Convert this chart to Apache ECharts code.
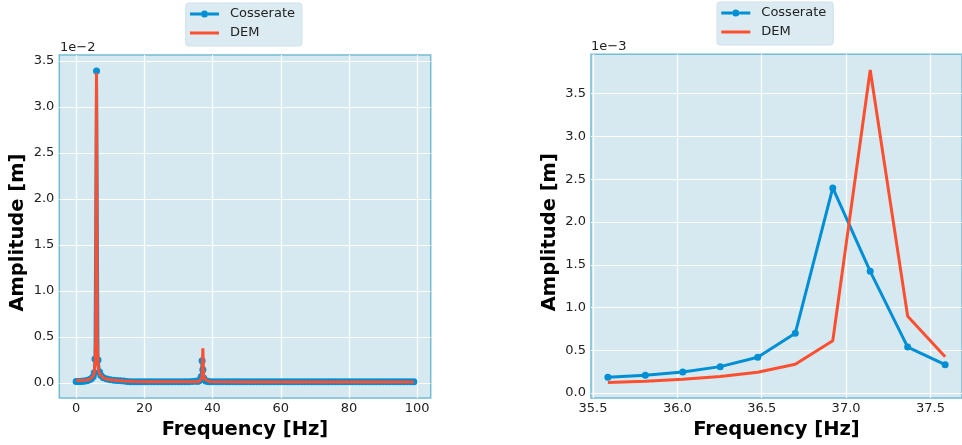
<!DOCTYPE html>
<html>
<head>
<meta charset="utf-8">
<script src="https://cdn.jsdelivr.net/npm/echarts@6/dist/echarts.min.js"></script>
<style>
html,body{margin:0;padding:0;background:#fff;}
#chart{width:962px;height:445px;}
</style>
</head>
<body>
<div id="chart"></div>
<script>
// ---------- DATA (amplitudes in metres, frequencies in Hz) ----------
// Cosserate, full spectrum: part below the zoom window
const cossFreqLow = [0, 0.5, 1, 1.5, 2, 2.5, 3, 3.5, 4, 4.5, 5, 5.3, 5.52, 5.96, 6.40, 6.84, 7.28, 8, 9, 10, 11, 12, 13, 14, 15,
  16, 17, 18, 19, 20, 21, 22, 23, 24, 25, 26, 27, 28, 29, 30, 31, 32, 33, 34, 35];
const cossAmpLow = [1.5e-4, 1.5e-4, 1.6e-4, 1.7e-4, 1.9e-4, 2.1e-4, 2.4e-4, 2.9e-4, 3.6e-4, 4.7e-4, 7.0e-4, 1.1e-3, 2.6e-3, 3.39e-2, 2.5e-3, 1.2e-3, 8.0e-4, 5.5e-4, 4.2e-4, 3.5e-4, 3.0e-4, 2.7e-4, 2.4e-4, 2.0e-4, 1.5e-4,
  1.2e-4, 1.2e-4, 1.2e-4, 1.2e-4, 1.2e-4, 1.2e-4, 1.2e-4, 1.2e-4, 1.2e-4, 1.2e-4, 1.2e-4, 1.2e-4, 1.2e-4, 1.2e-4, 1.2e-4, 1.2e-4, 1.2e-4, 1.3e-4, 1.5e-4, 1.7e-4];
// Zoom window around the second mode (right panel)
const zoomFreq = [35.588, 35.810, 36.032, 36.254, 36.476, 36.699, 36.921, 37.143, 37.365, 37.587];
const zoomCoss = [0.186e-3, 0.209e-3, 0.247e-3, 0.309e-3, 0.418e-3, 0.700e-3, 2.398e-3, 1.423e-3, 0.538e-3, 0.332e-3];
const zoomDEM  = [0.124e-3, 0.139e-3, 0.162e-3, 0.193e-3, 0.244e-3, 0.336e-3, 0.611e-3, 3.778e-3, 0.897e-3, 0.425e-3];
// Cosserate above the zoom window
const cossFreqHigh = [38, 38.5, 39, 40, 41, 42, 43, 44, 45, 46, 47, 48, 49, 50, 51, 52, 53, 54, 55, 56, 57, 58, 59, 60,
  61, 62, 63, 64, 65, 66, 67, 68, 69, 70, 71, 72, 73, 74, 75, 76, 77, 78, 79, 80,
  81, 82, 83, 84, 85, 86, 87, 88, 89, 90, 91, 92, 93, 94, 95, 96, 97, 98, 99];
const cossAmpHigh = [2.2e-4, 1.7e-4, 1.4e-4, 1.2e-4, 1.2e-4, 1.2e-4, 1.2e-4, 1.2e-4, 1.2e-4, 1.2e-4, 1.2e-4, 1.2e-4, 1.2e-4, 1.2e-4, 1.2e-4, 1.2e-4, 1.2e-4, 1.2e-4, 1.2e-4, 1.2e-4, 1.2e-4, 1.2e-4, 1.2e-4, 1.2e-4,
  1.2e-4, 1.2e-4, 1.2e-4, 1.2e-4, 1.2e-4, 1.2e-4, 1.2e-4, 1.2e-4, 1.2e-4, 1.2e-4, 1.2e-4, 1.2e-4, 1.2e-4, 1.2e-4, 1.2e-4, 1.2e-4, 1.2e-4, 1.2e-4, 1.2e-4, 1.2e-4,
  1.2e-4, 1.2e-4, 1.2e-4, 1.2e-4, 1.2e-4, 1.2e-4, 1.2e-4, 1.2e-4, 1.2e-4, 1.2e-4, 1.2e-4, 1.2e-4, 1.2e-4, 1.2e-4, 1.2e-4, 1.2e-4, 1.2e-4, 1.2e-4, 1.2e-4];
// DEM, full spectrum
const demFreqLow = [0, 1, 2, 3, 4, 4.5, 5, 5.3, 5.52, 5.74, 5.96, 6.18, 6.40, 6.62, 7, 8, 9, 10, 12, 14, 17, 20, 25, 30, 34];
const demAmpLow  = [2.5e-4, 2.6e-4, 2.8e-4, 3.2e-4, 4.0e-4, 5.0e-4, 7.5e-4, 1.1e-3, 2.0e-3, 5.0e-3, 3.37e-2, 4.5e-3, 2.0e-3, 1.3e-3, 9.0e-4, 5.5e-4, 4.2e-4, 3.5e-4, 2.7e-4, 2.0e-4, 1.5e-4, 1.3e-4, 1.2e-4, 1.2e-4, 1.2e-4];
const demFreqHigh = [38, 39, 40, 50, 60, 70, 80, 90, 99];
const demAmpHigh  = [2.5e-4, 1.5e-4, 1.2e-4, 1.0e-4, 1.0e-4, 1.0e-4, 1.0e-4, 1.0e-4, 1.0e-4];

// Tick values
const leftXTicks = [0, 20, 40, 60, 80, 100];
const leftYTicks = [0, 0.005, 0.01, 0.015, 0.02, 0.025, 0.03, 0.035];
const rightXTicks = [35.5, 36.0, 36.5, 37.0, 37.5];
const rightYTicks = [0, 0.0005, 0.001, 0.0015, 0.002, 0.0025, 0.003, 0.0035];

const seriesNames = ['Cosserate', 'DEM'];
const xTitle = 'Frequency [Hz]';
const yTitle = 'Amplitude [m]';

// ---------- BUILD ----------
const pairs = (xs, ys) => xs.map((x, i) => [x, ys[i]]);
const leftCoss = pairs(cossFreqLow, cossAmpLow).concat(pairs(zoomFreq, zoomCoss), pairs(cossFreqHigh, cossAmpHigh));
const leftDEM = pairs(demFreqLow, demAmpLow).concat(pairs(zoomFreq, zoomDEM), pairs(demFreqHigh, demAmpHigh));
const rightCoss = pairs(zoomFreq, zoomCoss);
const rightDEM = pairs(zoomFreq, zoomDEM);

const FONT = 'DejaVu Sans';
const BLUE = '#008fd5';
const RED = '#fc4f30';
const PLOT_BG = '#d6e9f1';
const BORDER = '#74bcd6';

// legend handles: line with a dot, plain line
const ICON_LINE_DOT = 'path://M0,5.5L11,5.5L11,8.5L0,8.5Z M18,5.5L29,5.5L29,8.5L18,8.5Z M11,7A3.5,3.5,0,1,1,18,7A3.5,3.5,0,1,1,11,7Z';
const ICON_LINE = 'path://M0,0L29,0L29,3L0,3Z';

function xAxisCfg(idx, min, max, ticks, fmt) {
  return {
    type: 'value', gridIndex: idx, min: min, max: max,
    name: xTitle, nameLocation: 'middle', nameGap: 20,
    nameTextStyle: {fontFamily: FONT, fontSize: 19.5, fontWeight: 'bold', color: '#000'},
    axisLine: {show: false}, axisTick: {show: false, customValues: ticks},
    axisLabel: {customValues: ticks, formatter: fmt, fontFamily: FONT, fontSize: 13, color: '#222', margin: 4},
    splitLine: {show: true, lineStyle: {color: '#ffffff', width: 1.2}}
  };
}
function yAxisCfg(idx, min, max, ticks, fmt) {
  return {
    type: 'value', gridIndex: idx, min: min, max: max,
    name: yTitle, nameLocation: 'middle', nameGap: 31,
    nameTextStyle: {fontFamily: FONT, fontSize: 19.5, fontWeight: 'bold', color: '#000', padding: [0, 12, 0, 0]},
    axisLine: {show: false}, axisTick: {show: false, customValues: ticks},
    axisLabel: {customValues: ticks, formatter: fmt, fontFamily: FONT, fontSize: 13, color: '#222', margin: 5},
    splitLine: {show: true, lineStyle: {color: '#ffffff', width: 1.2}}
  };
}
function legendCfg(left, top) {
  return {
    data: [{name: seriesNames[0], icon: ICON_LINE_DOT}, {name: seriesNames[1], icon: ICON_LINE}],
    orient: 'vertical', left: left, top: top,
    itemWidth: 29, itemHeight: 14, itemGap: 6,
    padding: [4.5, 7, 6.5, 4.3],
    backgroundColor: '#dbebf1', borderColor: '#cfe2e9', borderWidth: 1, borderRadius: 3,
    textStyle: {fontFamily: FONT, fontSize: 13, color: '#222', padding: [0, 0, 0, 6]},
    selectedMode: false
  };
}
function cossSeries(xi, data) {
  return {name: seriesNames[0], type: 'line', xAxisIndex: xi, yAxisIndex: xi, data: data,
    symbol: 'circle', symbolSize: 7, showAllSymbol: true,
    lineStyle: {color: BLUE, width: 3}, itemStyle: {color: BLUE}, z: 2, silent: true};
}
function demSeries(xi, data) {
  return {name: seriesNames[1], type: 'line', xAxisIndex: xi, yAxisIndex: xi, data: data,
    symbol: 'none', showSymbol: false,
    lineStyle: {color: RED, width: 3}, itemStyle: {color: RED}, z: 3, silent: true};
}

const chart = echarts.init(document.getElementById('chart'), null, {renderer: 'canvas'});
chart.setOption({
  animation: false,
  backgroundColor: '#ffffff',
  grid: [
    {left: 59.3, top: 55, width: 371.4, height: 345.3, show: true, backgroundColor: PLOT_BG, borderColor: BORDER, borderWidth: 1.5},
    {left: 591, top: 54.3, width: 372, height: 345.7, show: true, backgroundColor: PLOT_BG, borderColor: BORDER, borderWidth: 1.5}
  ],
  xAxis: [
    xAxisCfg(0, -4.95, 103.95, leftXTicks, v => String(Math.round(v))),
    xAxisCfg(1, 35.488, 37.687, rightXTicks, v => v.toFixed(1))
  ],
  yAxis: [
    yAxisCfg(0, -0.00165, 0.03565, leftYTicks, v => (v * 100).toFixed(1)),
    yAxisCfg(1, -0.000059, 0.003961, rightYTicks, v => (v * 1000).toFixed(1))
  ],
  legend: [legendCfg(185.7, 3), legendCfg(717, 2)],
  graphic: [
    {type: 'text', x: 60, y: 47.5, style: {text: '1e\u22122', font: '13px "DejaVu Sans"', fill: '#222', verticalAlign: 'middle'}},
    {type: 'text', x: 591, y: 46.7, style: {text: '1e\u22123', font: '13px "DejaVu Sans"', fill: '#222', verticalAlign: 'middle'}}
  ],
  series: [
    cossSeries(0, leftCoss), demSeries(0, leftDEM),
    cossSeries(1, rightCoss), demSeries(1, rightDEM)
  ]
});
</script>
</body>
</html>
